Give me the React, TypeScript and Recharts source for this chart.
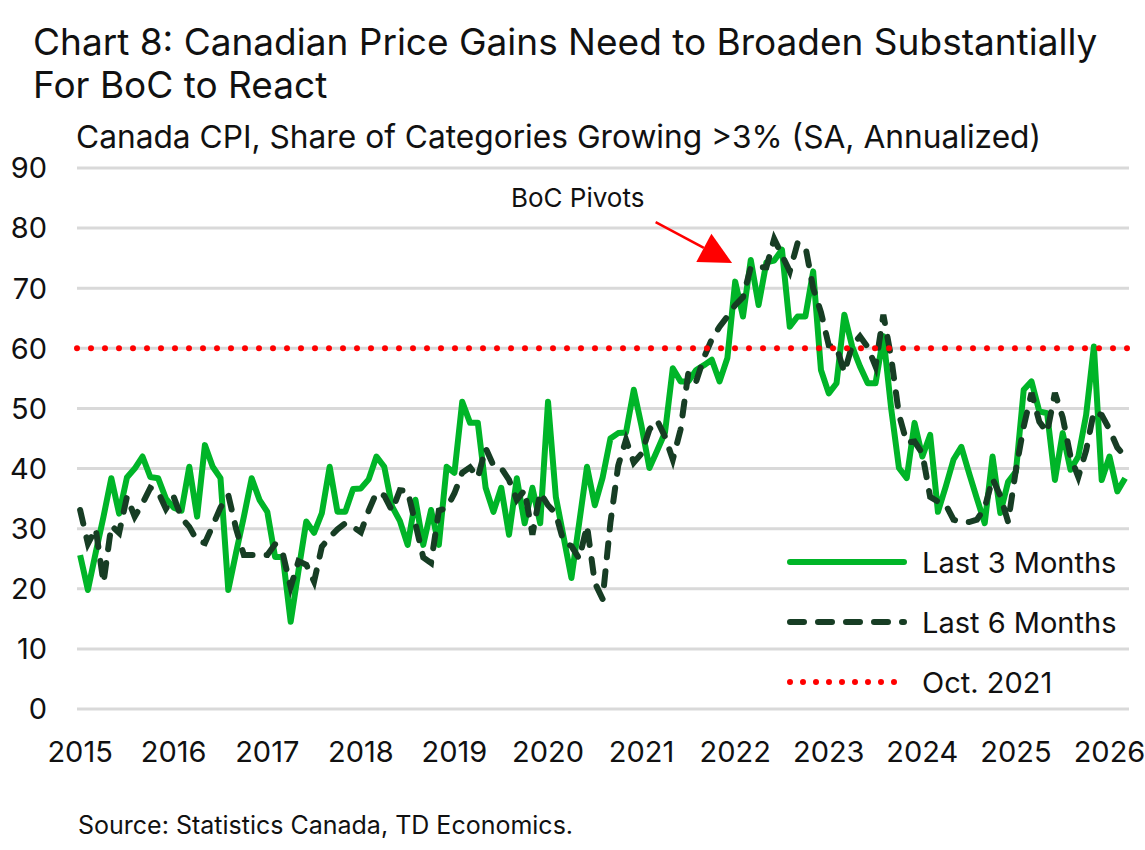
import React from "react";
import {
  LineChart, Line, XAxis, YAxis, CartesianGrid, ReferenceLine,
} from "recharts";

// monthly, Jan 2015 .. Mar 2026
const last3m = [
  25.6, 19.8, 26, 32, 38.4, 32.5, 38.5, 40, 42, 38.6, 38.4, 35,
  33.5, 33, 40.3, 32, 43.9, 40.3, 38.4, 19.8, 26, 32, 38.4, 34.8,
  32.8, 25.3, 25.3, 14.5, 23, 31.2, 29.3, 32.6, 40.3, 32.8, 32.8, 36.6,
  36.7, 38.2, 42, 40.3, 33.7, 31.3, 27.3, 34.8, 27.3, 33.1, 27.3, 40.3,
  39.3, 51.1, 47.6, 47.6, 36.8, 32.8, 36.8, 29, 38.4, 30.9, 36.8, 30.9,
  51.1, 35.3, 28.6, 21.8, 31, 40.3, 33.9, 38.5, 45, 45.9, 46, 53.1,
  47, 40.1, 43, 46, 56.7, 54.5, 54.5, 56.4, 57.2, 58.1, 54.5, 58.4,
  71.1, 65.3, 74.7, 67.2, 74.3, 74.6, 76.4, 63.6, 65.3, 65.3, 72.8, 56.4,
  52.5, 54.2, 65.6, 60.3, 57, 54.2, 54.2, 62, 50, 40.1, 38.4, 47.6,
  42, 45.6, 32.8, 37, 41.5, 43.6, 39.2, 35, 30.9, 42, 32.6, 37.8,
  39.5, 53.1, 54.5, 49.5, 49.2, 38.1, 45.9, 39.8, 42, 48.9, 60.3, 38.1,
  42, 36.2, 38.4,
];

const last6m = [
  33.1, 27.5, 30, 21, 30.5, 29.3, 35.3, 32, 34.2, 36.8, 36.1, 33.3,
  35.3, 31.8, 30.3, 28, 27.6, 30.5, 33.5, 35.6, 30, 25.6, 25.6, 25.6,
  25.6, 27.4, 25.8, 20.3, 24.6, 24, 21.2, 27, 28.6, 29.9, 30.9, 30.3,
  29.4, 33, 36, 35.5, 33, 36.4, 36.3, 30.8, 25.2, 24.3, 33, 33.4,
  35.9, 39.3, 40.2, 38.5, 43.4, 40.5, 40.1, 38.1, 34.8, 36.4, 29, 36,
  33.9, 32.5, 27.8, 27.1, 25, 30.5, 21, 18.3, 31, 40.5, 44.8, 41,
  42.5, 46.5, 48, 45.3, 41.5, 46.5, 56, 54.5, 58.5, 61.5, 63.6, 65.3,
  67.2, 68.5, 73.5, 73.5, 73.5, 78.2, 75.5, 72.8, 77.5, 77, 70, 66,
  60.5, 60.2, 56, 60.5, 62, 60.2, 57, 65.6, 58.5, 49, 44.3, 44.5,
  42.5, 35.3, 34.5, 34, 31.5, 31.1, 31.1, 31.5, 33.5, 38.3, 35.5, 31.1,
  39.8, 47, 52.6, 47.8, 46, 52.6, 48.5, 42, 38.6, 43, 49.5, 48.9,
  46.5, 43.5, 42,
];

const yearTicks = [0, 12, 24, 36, 48, 60, 72, 84, 96, 108, 120, 132];
const yearLabels = ["2015", "2016", "2017", "2018", "2019", "2020", "2021", "2022", "2023", "2024", "2025", "2026"];
const yTicks = [0, 10, 20, 30, 40, 50, 60, 70, 80, 90];
const oct2021Level = 60;

// annotation, in data units (month index, value)
const pivotArrow = { from: { x: 73.8, y: 81 }, to: { x: 83.6, y: 74.2 } };
const pivotText = "BoC Pivots";

const GREEN = "#00b528";
const DARK = "#173d24";
const RED = "#ff0000";
const FONT = "Inter, 'Noto Sans', sans-serif";

const data = last3m.map((v, i) => ({ idx: i, last3m: v, last6m: last6m[i] }));

const legendItems = [
  { label: "Last 3 Months", color: GREEN, dash: undefined as string | undefined },
  { label: "Last 6 Months", color: DARK, dash: "14 14" },
  { label: "Oct. 2021", color: RED, dash: "0 13" },
];

const LegendBox = () => (
  <div style={{ position: "absolute", left: 786, top: 532, display: "flex", flexDirection: "column" }}>
    {legendItems.map((it) => (
      <div key={it.label} style={{ display: "flex", alignItems: "center", height: 60 }}>
        <svg width={122} height={14}>
          <line x1={4} y1={7} x2={118} y2={7} stroke={it.color} strokeWidth={6}
            strokeDasharray={it.dash} strokeLinecap="round" />
        </svg>
        <span style={{ marginLeft: 14, fontSize: 29, color: "#111" }}>{it.label}</span>
      </div>
    ))}
  </div>
);

const ArrowShape = (props: any) => {
  const { x1, y1, x2, y2 } = props;
  if ([x1, y1, x2, y2].some((n) => typeof n !== "number" || isNaN(n))) return null;
  const dx = x2 - x1, dy = y2 - y1;
  const len = Math.sqrt(dx * dx + dy * dy);
  const ux = dx / len, uy = dy / len;
  const headL = 32, headW = 16;
  const bx = x2 - ux * headL, by = y2 - uy * headL;
  const pts = `${x2},${y2} ${bx - uy * headW},${by + ux * headW} ${bx + uy * headW},${by - ux * headW}`;
  return (
    <g>
      <line x1={x1} y1={y1} x2={bx} y2={by} stroke={RED} strokeWidth={2.5} />
      <polygon points={pts} fill={RED} />
      <text x={x1 - 78} y={y1 - 15} textAnchor="middle" fontSize={26} fontFamily={FONT} fill="#111">
        {pivotText}
      </text>
    </g>
  );
};

export default function App() {
  return (
    <div style={{ position: "absolute", left: 0, top: 0, width: 1145, height: 850, background: "#fff", fontFamily: FONT }}>
      <div style={{ position: "absolute", left: 33, top: 20, fontSize: 37, lineHeight: "43px", color: "#111" }}>
        Chart 8: Canadian Price Gains Need to Broaden Substantially
        <br />
        For BoC to React
      </div>
      <div style={{ position: "absolute", left: 76, top: 117, fontSize: 31.7, color: "#111" }}>
        Canada CPI, Share of Categories Growing &gt;3% (SA, Annualized)
      </div>
      <div style={{ position: "absolute", left: 78, top: 810, fontSize: 25, color: "#111" }}>
        Source: Statistics Canada, TD Economics.
      </div>
      <div style={{ position: "absolute", left: 0, top: 0 }}>
        <LineChart width={1145} height={850} data={data}
          margin={{ top: 168, right: 16, bottom: 101, left: 7 }}>
          <CartesianGrid vertical={false} stroke="#d9d9d9" strokeWidth={3} />
          <XAxis dataKey="idx" type="number" domain={[-0.4, 134.5]} ticks={yearTicks}
            axisLine={false} tickLine={false} height={40} interval={0}
            tick={{ fill: "#111", fontSize: 29, fontFamily: FONT, dy: 24 }}
            tickFormatter={(v: number) => yearLabels[yearTicks.indexOf(v)]} />
          <YAxis domain={[0, 90]} ticks={yTicks} width={70} axisLine={false} tickLine={false}
            tick={{ fill: "#111", fontSize: 29, fontFamily: FONT, dx: -22 }} />
          <Line dataKey="last3m" name="Last 3 Months" stroke={GREEN} strokeWidth={6}
            dot={false} activeDot={false} isAnimationActive={false} strokeLinejoin="round" />
          <Line dataKey="last6m" name="Last 6 Months" stroke={DARK} strokeWidth={6}
            strokeDasharray="14 14" strokeLinecap="round" dot={false} activeDot={false}
            isAnimationActive={false} />
          <ReferenceLine y={oct2021Level} stroke={RED} strokeWidth={6} strokeDasharray="0 14"
            strokeLinecap="round" />
          <ReferenceLine segment={[pivotArrow.from, pivotArrow.to]} shape={ArrowShape} />
        </LineChart>
      </div>
      <LegendBox />
    </div>
  );
}
